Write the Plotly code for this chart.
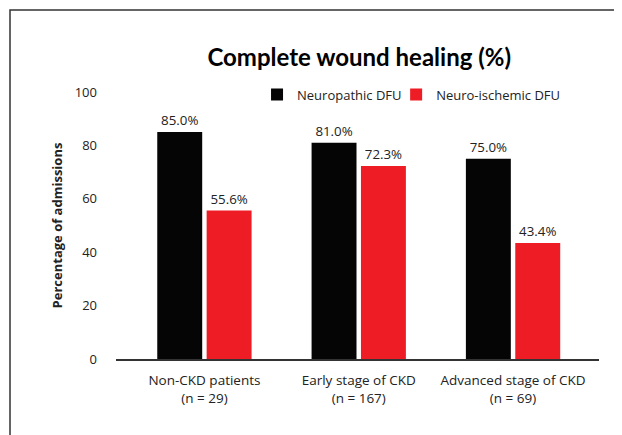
import plotly.graph_objects as go

categories = ['Non-CKD patients<br>(n = 29)', 'Early stage of CKD<br>(n = 167)', 'Advanced stage of CKD<br>(n = 69)']
neuropathic = [85.0, 81.0, 75.0]
neuro_ischemic = [55.6, 72.3, 43.4]
series_names = ['Neuropathic DFU', 'Neuro-ischemic DFU']
y_ticks = [0, 20, 40, 60, 80, 100]

FONT = 'Open Sans'
# page body has an 8px margin, so the figure is drawn 8px smaller and shifted
W, H = 614, 427
L, T, PW, PH = 108, 84, 483, 267

fig = go.Figure()
fig.add_trace(go.Bar(x=categories, y=neuropathic, name=series_names[0],
                     marker=dict(color='#050505', line=dict(width=0)),
                     texttemplate='%{y:.1f}%', textposition='outside',
                     textfont=dict(size=13.3, color='#222'), cliponaxis=False,
                     legend='legend'))
fig.add_trace(go.Bar(x=categories, y=neuro_ischemic, name=series_names[1],
                     marker=dict(color='#EE1C25', line=dict(width=0)),
                     texttemplate='%{y:.1f}%', textposition='outside',
                     textfont=dict(size=13.3, color='#222'), cliponaxis=False,
                     legend='legend2'))

legend_style = dict(orientation='h', xanchor='left', y=0.99, yanchor='middle',
                    font=dict(size=13), bgcolor='rgba(0,0,0,0)', itemwidth=30)

fig.update_layout(
    width=W, height=H,
    margin=dict(l=L, r=W - L - PW, t=T, b=H - T - PH, autoexpand=False),
    paper_bgcolor='white', plot_bgcolor='white',
    font=dict(family=FONT, size=13, color='#222'),
    barmode='group', bargap=0.36, bargroupgap=0.09,
    title=dict(text='<b>Complete wound healing (%)</b>', x=0.572, xanchor='center',
               y=0.885, yanchor='middle', font=dict(family='Lato', size=24, color='#000')),
    legend=dict(x=0.292, **legend_style),
    legend2=dict(x=0.58, **legend_style),
    showlegend=True,
)
fig.update_xaxes(range=[-0.573, 2.557], showline=True, linecolor='#333', linewidth=1.5,
                 ticks='', showgrid=False, tickfont=dict(size=13.5), automargin=False,
                 ticklabelstandoff=8)
fig.update_yaxes(range=[0, 100], tickvals=y_ticks, showline=False, showgrid=False,
                 zeroline=False, ticks='', ticklabelstandoff=18, automargin=False,
                 tickfont=dict(size=13),
                 title=dict(text='<b>Percentage of admissions</b>', font=dict(size=13), standoff=9))

# outer frame of the original figure (cropped at right and bottom)
fig.add_shape(type='rect', xref='paper', yref='paper',
              x0=(2 - L) / PW, x1=1.2, y0=-0.4, y1=(T + PH - 2) / PH,
              line=dict(color='#333', width=1.5), fillcolor='rgba(0,0,0,0)', layer='below')

fig.write_html('out.html')
